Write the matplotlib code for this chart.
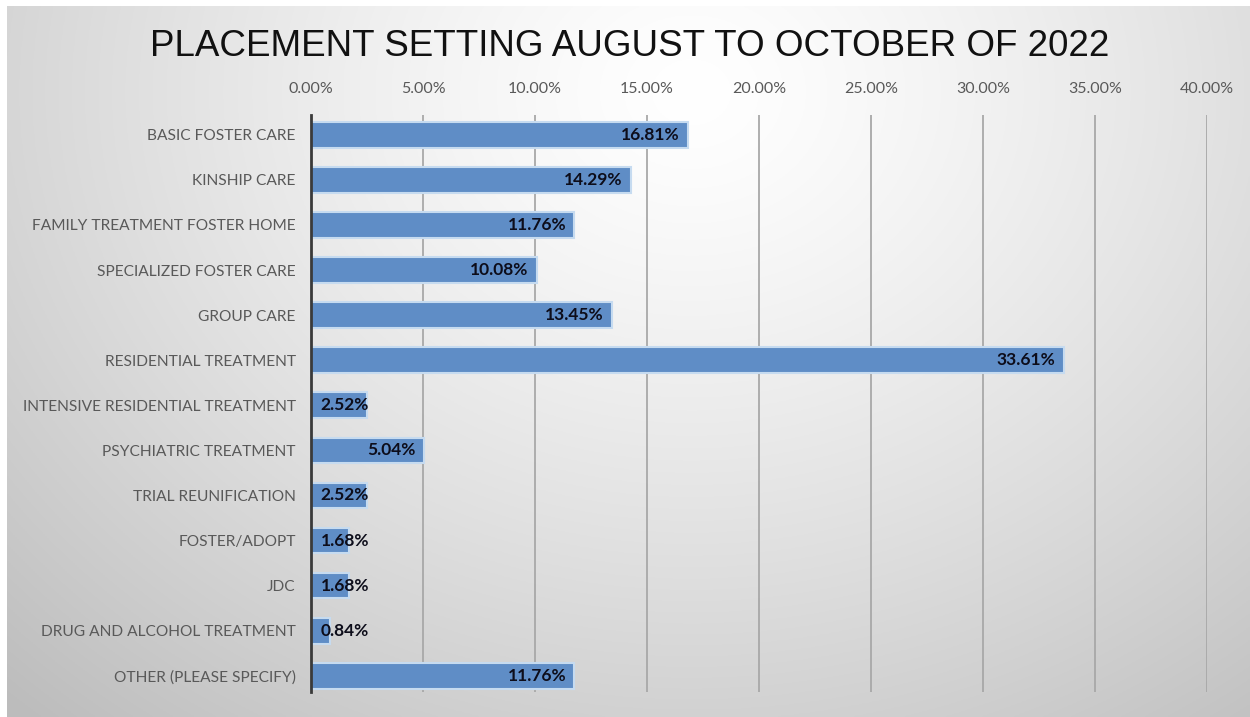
import numpy as np
import matplotlib.pyplot as plt

# Kategorien und Anteile (in %)
categories = [
    "BASIC FOSTER CARE",
    "KINSHIP CARE",
    "FAMILY TREATMENT FOSTER HOME",
    "SPECIALIZED FOSTER CARE",
    "GROUP CARE",
    "RESIDENTIAL TREATMENT",
    "INTENSIVE RESIDENTIAL TREATMENT",
    "PSYCHIATRIC TREATMENT",
    "TRIAL REUNIFICATION",
    "FOSTER/ADOPT",
    "JDC",
    "DRUG AND ALCOHOL TREATMENT",
    "OTHER (PLEASE SPECIFY)",
]
values = [16.81, 14.29, 11.76, 10.08, 13.45, 33.61, 2.52, 5.04, 2.52, 1.68, 1.68, 0.84, 11.76]
x_ticks = [0, 5, 10, 15, 20, 25, 30, 35, 40]
title = "PLACEMENT SETTING AUGUST TO OCTOBER OF 2022"

fig = plt.figure(figsize=(12.5, 7.17), dpi=100)
fig.patch.set_facecolor("white")

# Hintergrund mit radialem Verlauf (hell oben in der Mitte, grau an den Rändern)
bg = fig.add_axes([7 / 1250, 0, 1 - 7 / 1250, 1 - 6 / 717], zorder=0)
h, w = 360, 620
yy, xx = np.mgrid[0:h, 0:w]
cx, cy = 0.55 * w, 0.12 * h
r = np.sqrt(((xx - cx) / (0.75 * w)) ** 2 + ((yy - cy) / (1.1 * h)) ** 2)
g = np.clip(1.0 - 0.24 * r ** 1.3, 0.74, 1.0)
bg.imshow(np.dstack([g, g, g]), aspect="auto", extent=[0, 1, 0, 1], origin="upper")
bg.set_axis_off()

ax = fig.add_axes([311 / 1250, 1 - 692 / 717, (1207 - 311) / 1250, (692 - 115) / 717], zorder=1)
ax.patch.set_alpha(0)

y = np.arange(len(categories))
ax.barh(y, values, height=0.57, color="#5f8dc6", edgecolor="#c6dbf0", linewidth=1.5, zorder=3)

ax.set_xlim(0, 40)
ax.set_ylim(len(categories) - 1 + 0.36, -0.44)

ax.set_xticks(x_ticks)
ax.set_xticklabels([f"{t:.2f}%" for t in x_ticks])
ax.xaxis.tick_top()
ax.tick_params(axis="x", length=0, pad=14, labelsize=11.5, labelcolor="#595959")
ax.set_yticks(y)
ax.set_yticklabels(categories)
ax.tick_params(axis="y", length=0, pad=11, labelsize=11.2, labelcolor="#595959")
for lbl in ax.get_xticklabels() + ax.get_yticklabels():
    lbl.set_fontfamily("Lato")

ax.grid(axis="x", color="#a8a8a8", linewidth=1.3, zorder=1)
ax.set_axisbelow(True)
for s in ["top", "right", "bottom"]:
    ax.spines[s].set_visible(False)
ax.spines["left"].set_color("#3a3a3a")
ax.spines["left"].set_linewidth(2)
ax.spines["left"].set_zorder(4)

# Datenbeschriftungen am Balkenende, bei kurzen Balken links ausgerichtet
for yi, v in zip(y, values):
    if v < 3.1:
        ax.annotate(f"{v:.2f}%", (0, yi), xytext=(7, 0), textcoords="offset points",
                    ha="left", va="center", fontsize=12.5, fontweight="bold",
                    color="#0d0d1a", fontfamily="Lato", zorder=5)
    else:
        ax.annotate(f"{v:.2f}%", (v, yi), xytext=(-6, 0), textcoords="offset points",
                    ha="right", va="center", fontsize=12.5, fontweight="bold",
                    color="#0d0d1a", fontfamily="Lato", zorder=5)

fig.text(630 / 1250, 1 - 46 / 717, title, ha="center", va="center",
         fontsize=26.5, color="#111111", fontfamily="Liberation Sans")

fig.savefig("out.png", dpi=100)
